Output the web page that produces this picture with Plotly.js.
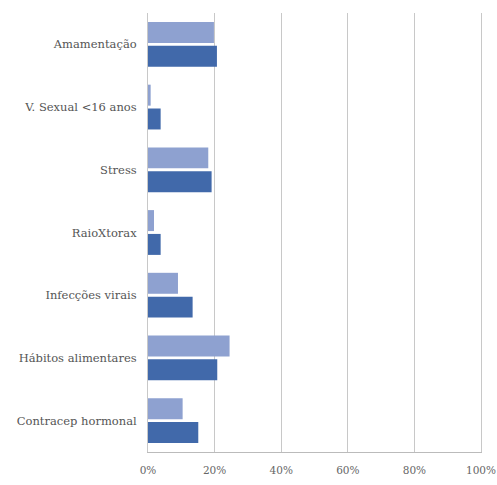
<!DOCTYPE html>
<html>
<head>
<meta charset="utf-8">
<script src="https://cdn.plot.ly/plotly-3.0.1.min.js"></script>
<style>html,body{margin:0;padding:0;background:#fff;}#chart{width:497px;height:485px;}</style>
</head>
<body>
<div id="chart"></div>
<script>
const categories = ["Amamentação", "V. Sexual <16 anos", "Stress", "RaioXtorax", "Infecções virais", "Hábitos alimentares", "Contracep hormonal"];
const seriesLight = [0.198, 0.008, 0.181, 0.018, 0.090, 0.245, 0.104];
const seriesDark = [0.207, 0.038, 0.191, 0.038, 0.134, 0.208, 0.151];
const tickVals = [0, 0.2, 0.4, 0.6, 0.8, 1.0];
const tickLabels = ["0%", "20%", "40%", "60%", "80%", "100%"];

const data = [
  {type: "bar", orientation: "h", y: categories, x: seriesLight, marker: {color: "#8EA1D0"}, hoverinfo: "x+y"},
  {type: "bar", orientation: "h", y: categories, x: seriesDark, marker: {color: "#4169AA"}, hoverinfo: "x+y"}
];
const layout = {
  width: 497, height: 485,
  margin: {l: 148, r: 16, t: 13, b: 33},
  paper_bgcolor: "#fff", plot_bgcolor: "#fff",
  showlegend: false,
  barmode: "group", bargap: 0.24, bargroupgap: 0.12,
  font: {family: "'DejaVu Serif', serif", size: 11, color: "#555"},
  xaxis: {range: [0, 1.0], tickvals: tickVals, ticktext: tickLabels, showgrid: true, gridcolor: "#c8c8c8", gridwidth: 1,
          zeroline: false, showline: true, linecolor: "#bbb", ticks: "", tickfont: {size: 10.5, color: "#666"}, ticklabelstandoff: 8,
          ticklabeloverflow: "allow", fixedrange: true},
  yaxis: {autorange: "reversed", showline: true, mirror: true, linecolor: "#c8c8c8", ticks: "", showgrid: false, tickfont: {size: 11.5, color: "#555"}, ticklabelstandoff: 8, fixedrange: true}
};
Plotly.newPlot("chart", data, layout, {displayModeBar: false, staticPlot: true});
</script>
</body>
</html>
